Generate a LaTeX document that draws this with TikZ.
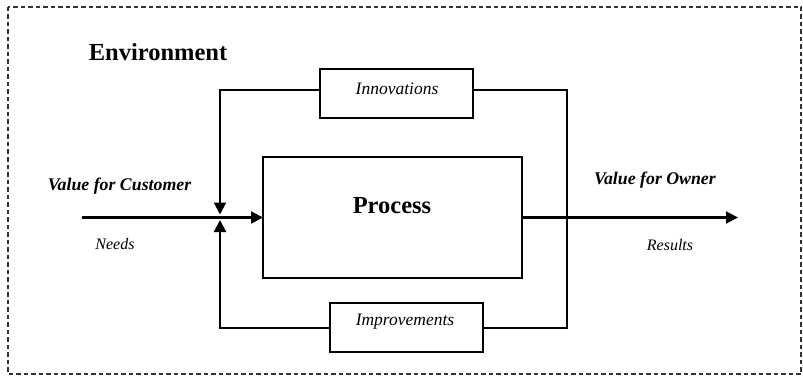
\documentclass[tikz,border=0pt]{standalone}
\usepackage{fontspec}
\setmainfont{Liberation Serif}
\usetikzlibrary{arrows.meta}
\begin{document}
\begin{tikzpicture}[x=1pt,y=-1pt,
  boxstyle/.style={draw,line width=2.2pt,inner sep=0pt,outer sep=0pt},
  lineconn/.style={line width=2.2pt},
  arr/.style={line width=2.1pt,-{Triangle[length=12pt,width=12pt]}},
  bigbold/.style={font=\fontsize{24.5}{28}\selectfont\bfseries},
  smallit/.style={font=\fontsize{17.5}{20}\selectfont\itshape},
  valuelbl/.style={font=\fontsize{17.8}{20}\selectfont\bfseries\itshape},
  notelbl/.style={font=\fontsize{16}{19}\selectfont\itshape}]
\useasboundingbox (0,0) rectangle (803,377);
\draw[line width=1.5pt,dash pattern=on 4.5pt off 3pt,gray!40!black] (8,7) rectangle (801,374);
\node[bigbold] (env) at (158,52) {Environment};
\node[boxstyle,minimum width=153pt,minimum height=49pt] (innov) at (396.5,93.5) {};
\node[smallit] (innovtxt) at (397,89) {Innovations};
\node[boxstyle,minimum width=153pt,minimum height=49pt] (improv) at (406.5,327.7) {};
\node[smallit] (improvtxt) at (405,322) {Improvements};
\node[boxstyle,minimum width=259pt,minimum height=121pt] (proc) at (392.5,217.5) {};
\node[bigbold] (proctxt) at (392,206) {Process};
\node[valuelbl] (vcust) at (119.5,186) {Value for Customer};
\node[notelbl] (needs) at (115,244) {Needs};
\node[valuelbl] (vown) at (655,180) {Value for Owner};
\node[notelbl] (results) at (670,245) {Results};
\coordinate (in) at (82,217.5);
\coordinate (out) at (738,217.5);
\coordinate (jt) at (220,214.5);
\coordinate (jb) at (220,220);
\coordinate (rc) at (567,327.7);
\draw[arr] (in) -- (proc.west);
\draw[arr] (proc.east) -- (out);
\draw[arr] ([yshift=3.5pt]innov.west) -| (jt);
\draw[arr] (improv.west) -| (jb);
\draw[lineconn] ([yshift=3.5pt]innov.east) -| (rc) -- (improv.east);
\end{tikzpicture}
\end{document}
